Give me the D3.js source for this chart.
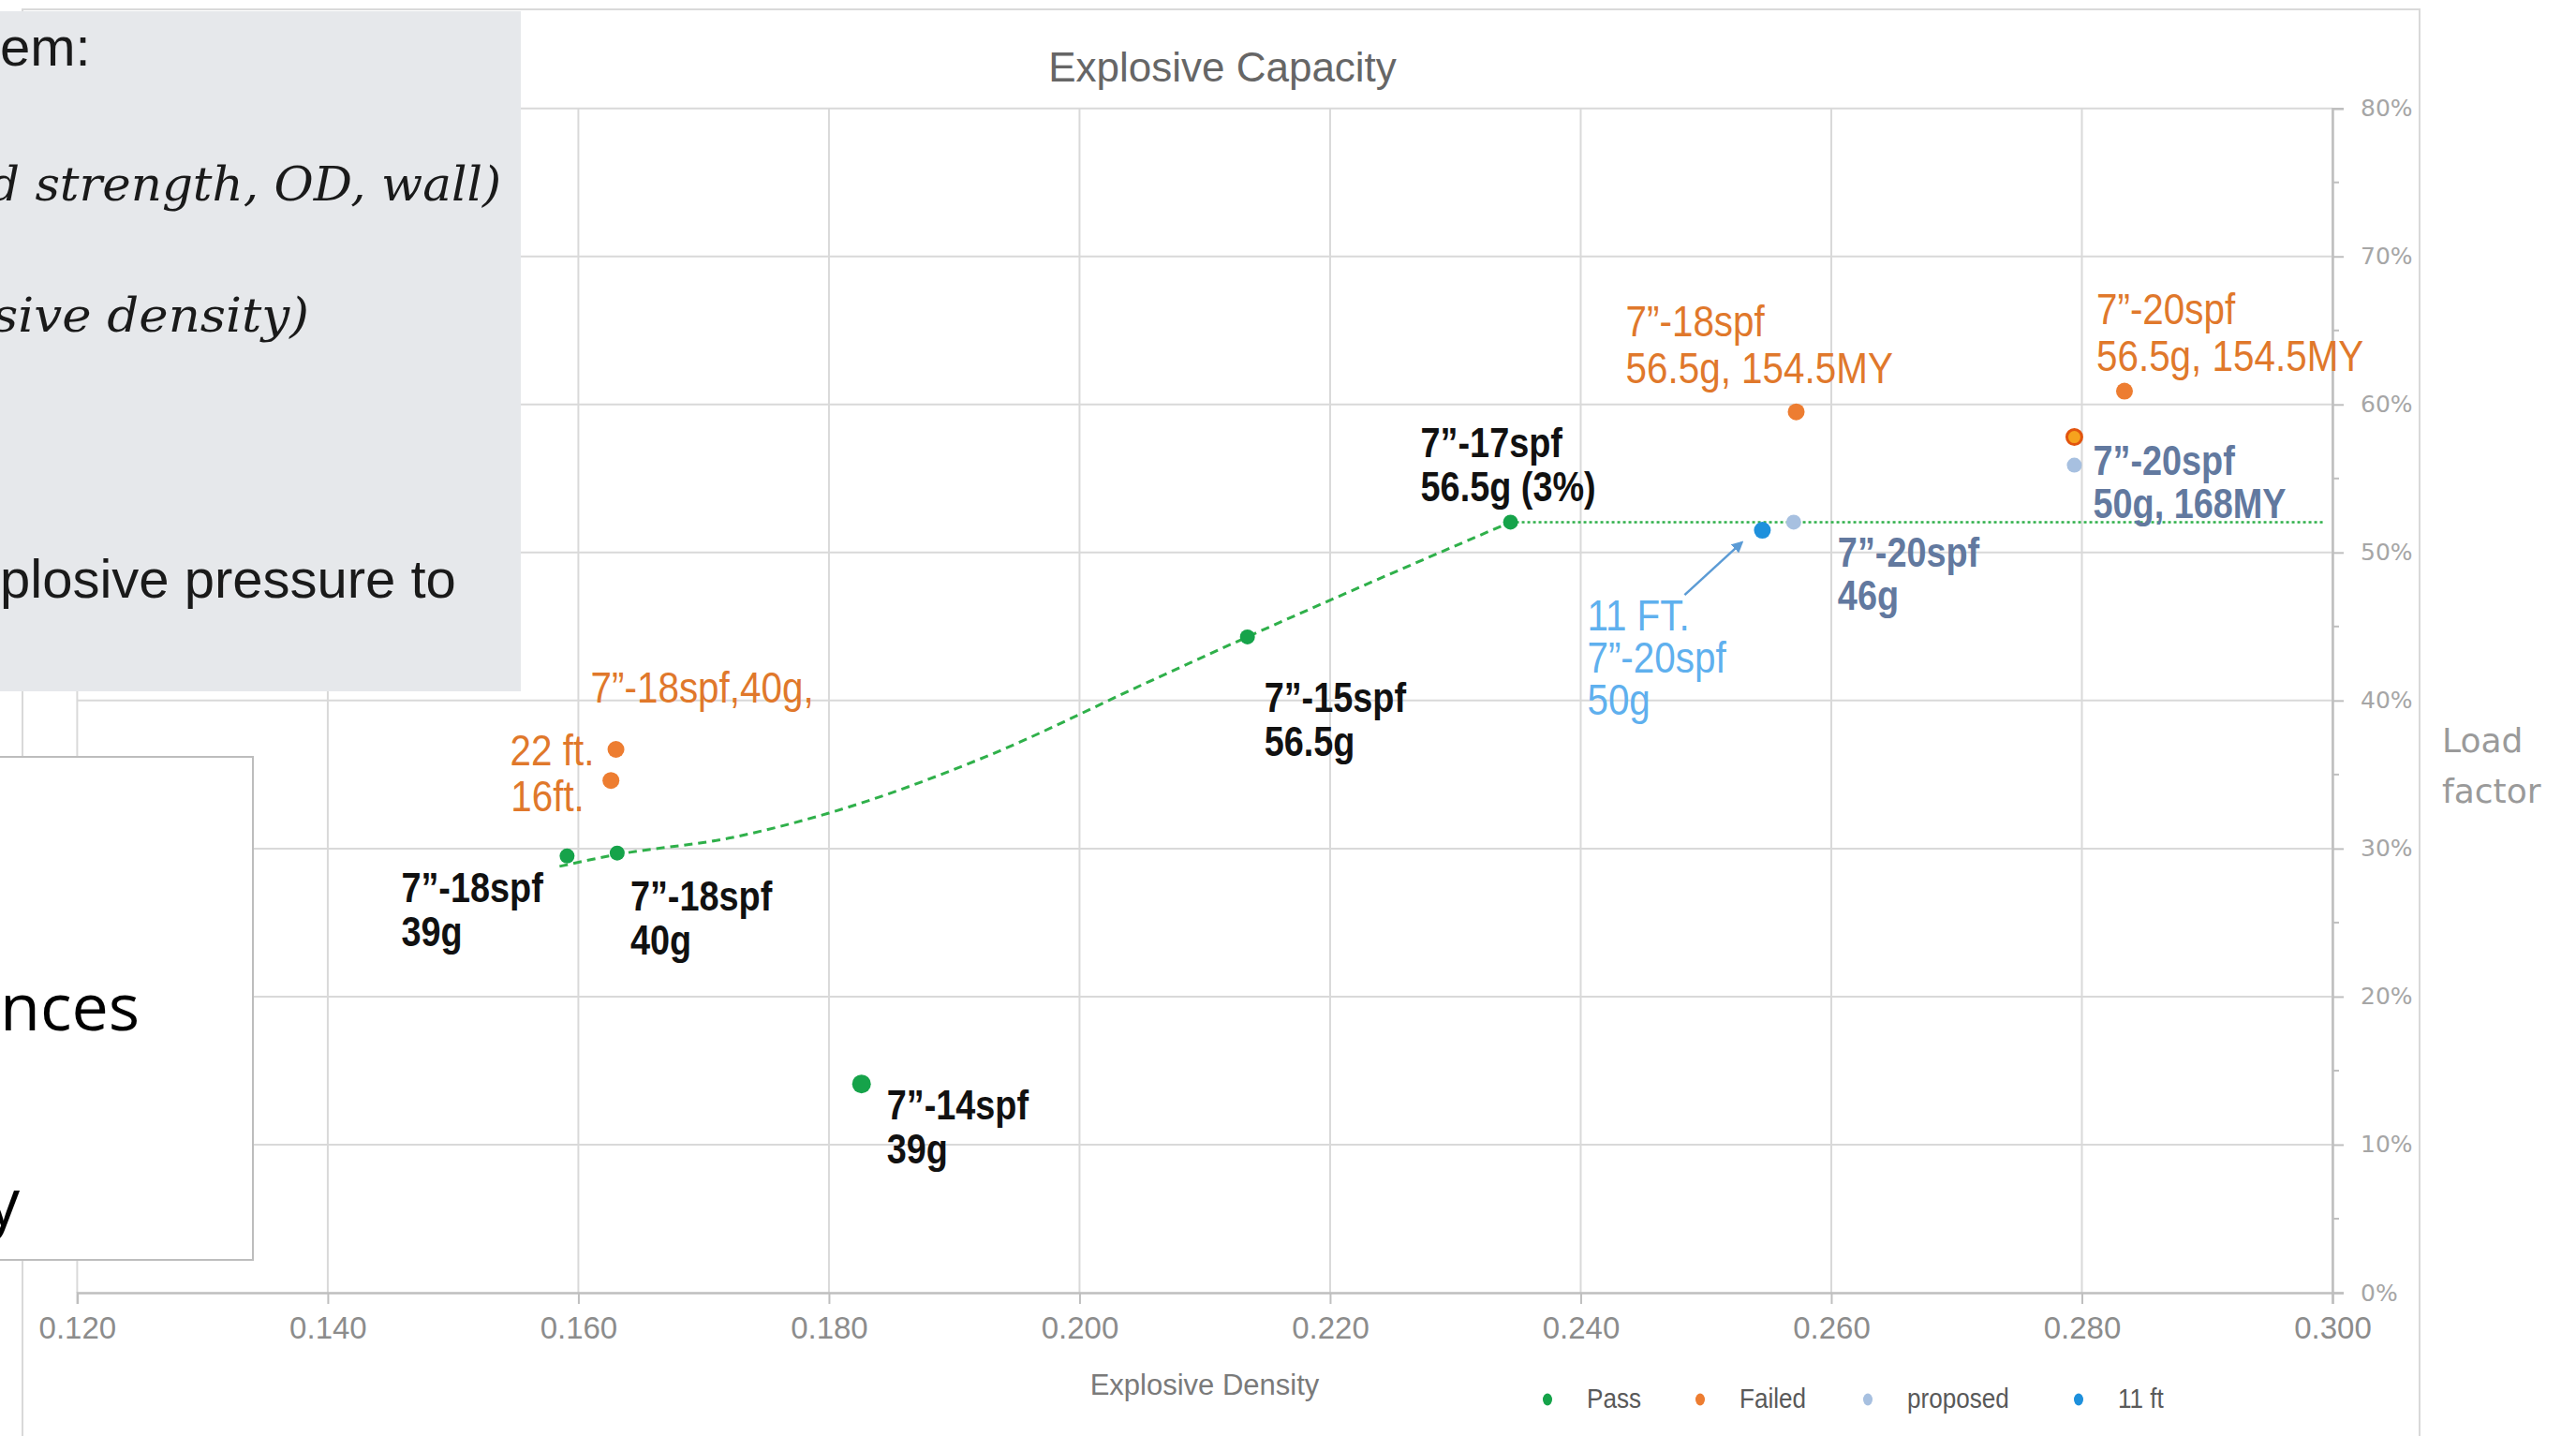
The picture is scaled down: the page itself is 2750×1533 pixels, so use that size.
<!DOCTYPE html>
<html><head><meta charset="utf-8">
<script src="https://cdn.jsdelivr.net/npm/d3@7"></script>
<style>
html,body{margin:0;padding:0;background:#fff;}
svg{display:block;}
</style></head>
<body>
<svg id="c" width="2750" height="1533"></svg>
<script>
// ---------- data ----------
const xTicks = [0.120,0.140,0.160,0.180,0.200,0.220,0.240,0.260,0.280,0.300];
const yTicks = [0,0.1,0.2,0.3,0.4,0.5,0.6,0.7,0.8];
const yMinorTicks = [0.05,0.15,0.25,0.35,0.45,0.55,0.65,0.75];

const passX = [0.1591, 0.1631, 0.1826, 0.2134, 0.2344];
const passY = [0.295, 0.297, 0.141, 0.443, 0.5205];
const passLabels = [["7”-18spf","39g"],["7”-18spf","40g"],["7”-14spf","39g"],["7”-15spf","56.5g"],["7”-17spf","56.5g (3%)"]];

const failedX = [0.1630, 0.1626, 0.2572, 0.2834, 0.2794];
const failedY = [0.367, 0.346, 0.595, 0.609, 0.578];
const failedLabels = [["22 ft."],["16ft."],["7”-18spf","56.5g, 154.5MY"],["7”-20spf","56.5g, 154.5MY"],[]];
const failedGroupLabel = "7”-18spf,40g,";

const proposedX = [0.2570, 0.2794];
const proposedY = [0.5205, 0.559];
const proposedLabels = [["7”-20spf","46g"],["7”-20spf","50g, 168MY"]];

const elevenX = [0.2545];
const elevenY = [0.515];
const elevenLabels = [["11 FT.","7”-20spf","50g"]];

const trendX = [0.1585, 0.1631, 0.1720, 0.1800, 0.1925, 0.2056, 0.2134, 0.2344];
const trendY = [0.288, 0.296, 0.307, 0.324, 0.362, 0.413, 0.443, 0.5205];
const thresholdX = [0.2344, 0.2993];
const thresholdY = 0.5205;

const legendNames = ["Pass","Failed","proposed","11 ft"];

// ---------- layout / style ----------
const LBL = "'Liberation Sans',Arial,sans-serif";
const SQUEEZE = 0.86;
const C = {pass:"#16a34a", failed:"#ed7d31", proposed:"#a7c0e0", eleven:"#1e90dc",
  failedLbl:"#e0782b", propLbl:"#62799f", elevenLbl:"#5fb0ee", grid:"#d9d9d9"};
const passOff = [[-177,49],[14,61],[27,38],[18,80],[-96,-69]];
const failedOff = [[-113,17],[-107,33],[-182,-81],[-30,-72],[0,0]];
const propOff = [[47,48],[20,10]];
const elevenOff = [[-187,107]];

const svg = d3.select("#c");
const x = d3.scaleLinear().domain([0.12,0.30]).range([82.4,2490]);
const y = d3.scaleLinear().domain([0,0.8]).range([1380,115.7]);

// outer chart border
svg.append("rect").attr("x",24).attr("y",10).attr("width",2583-24).attr("height",1600)
  .attr("fill","#fff").attr("stroke","#d9d9d9").attr("stroke-width",2);

// gridlines
const g = svg.append("g");
g.selectAll(".hg").data(yTicks.slice(1)).join("line")
  .attr("x1",x(0.12)).attr("x2",x(0.30)).attr("y1",d=>y(d)).attr("y2",d=>y(d))
  .attr("stroke",C.grid).attr("stroke-width",2);
g.selectAll(".vg").data(xTicks).join("line")
  .attr("x1",d=>x(d)).attr("x2",d=>x(d)).attr("y1",y(0.8)).attr("y2",y(0))
  .attr("stroke",C.grid).attr("stroke-width",2);

// x axis
const xAxis = d3.axisBottom(x).tickValues(xTicks).tickFormat(d3.format(".3f")).tickSize(12).tickPadding(14);
const xg = svg.append("g").attr("transform",`translate(0,${y(0)})`).call(xAxis);
xg.select(".domain").attr("stroke","#bfbfbf").attr("stroke-width",2.5);
xg.selectAll(".tick line").attr("stroke","#bfbfbf").attr("stroke-width",2);
xg.selectAll("text").attr("font-family",LBL).attr("font-size",33).attr("fill","#8c8c8c");

// right y axis
const yAxis = d3.axisRight(y).tickValues(yTicks).tickFormat(d3.format(".0%")).tickSize(12).tickPadding(18);
const yg = svg.append("g").attr("transform",`translate(${x(0.30)},0)`).call(yAxis);
yg.select(".domain").attr("stroke","#bfbfbf").attr("stroke-width",2.5);
yg.selectAll(".tick line").attr("stroke","#bfbfbf").attr("stroke-width",2);
yg.selectAll("text").attr("font-family","'DejaVu Sans',sans-serif").attr("font-size",25).attr("fill","#a6a6a6");
svg.append("g").selectAll("line").data(yMinorTicks).join("line")
  .attr("x1",x(0.30)).attr("x2",x(0.30)+7).attr("y1",d=>y(d)).attr("y2",d=>y(d))
  .attr("stroke","#bfbfbf").attr("stroke-width",2);

// titles
svg.append("text").attr("x",1305).attr("y",87).attr("text-anchor","middle")
  .attr("font-family",LBL).attr("font-size",44).attr("fill","#666")
  .text("Explosive Capacity");
svg.append("text").attr("x",1286).attr("y",1489).attr("text-anchor","middle")
  .attr("font-family",LBL).attr("font-size",31).attr("fill","#7a7a7a")
  .text("Explosive Density");
const lf = svg.append("text").attr("font-family","'DejaVu Sans',sans-serif").attr("font-size",36).attr("fill","#9a9a9a");
lf.append("tspan").attr("x",2607).attr("y",803).text("Load");
lf.append("tspan").attr("x",2607).attr("y",857).text("factor");

// trendline + threshold
const line = d3.line().x(d=>x(d[0])).y(d=>y(d[1])).curve(d3.curveMonotoneX);
svg.append("path").attr("d",line(trendX.map((v,i)=>[v,trendY[i]])))
  .attr("fill","none").attr("stroke","#2fb04a").attr("stroke-width",3).attr("stroke-dasharray","9,6");
svg.append("line").attr("x1",x(thresholdX[0])).attr("x2",x(thresholdX[1]))
  .attr("y1",y(thresholdY)).attr("y2",y(thresholdY))
  .attr("stroke","#2fb04a").attr("stroke-width",2.5).attr("stroke-dasharray","3,3");

// markers
function dots(xs, ys, fill, r, stroke){
  svg.append("g").selectAll("circle").data(xs.map((v,i)=>[v,ys[i]])).join("circle")
    .attr("cx",d=>x(d[0])).attr("cy",d=>y(d[1])).attr("r",r)
    .attr("fill",fill).attr("stroke",stroke||"none").attr("stroke-width",stroke?3:0);
}
dots(passX.slice(0,2).concat(passX.slice(3)), passY.slice(0,2).concat(passY.slice(3)), C.pass, 8);
dots([passX[2]],[passY[2]], C.pass, 10);
dots(failedX.slice(0,4), failedY.slice(0,4), C.failed, 9);
dots([failedX[4]],[failedY[4]], "#f6a21e", 8, "#e2540e");
dots(proposedX, proposedY, C.proposed, 8);
dots(elevenX, elevenY, C.eleven, 9);

// condensed labels (Arial-Narrow look)
function narrowText(bx, by, lines, color, size, weight, lh){
  const gg = svg.append("g").attr("transform",`translate(${bx},${by}) scale(${SQUEEZE},1)`);
  const t = gg.append("text").attr("font-family",LBL).attr("font-size",size)
    .attr("font-weight",weight).attr("fill",color);
  lines.forEach((s,j)=>t.append("tspan").attr("x",0).attr("y",j*lh).text(s));
}
function labels(xs, ys, texts, offs, color, size, weight, lh){
  texts.forEach((lines,i)=>{
    if(!lines.length) return;
    narrowText(x(xs[i])+offs[i][0], y(ys[i])+offs[i][1], lines, color, size, weight, lh);
  });
}
labels(passX, passY, passLabels, passOff, "#111", 44, "bold", 47);
labels(failedX, failedY, failedLabels, failedOff, C.failedLbl, 47, "normal", 50);
labels(proposedX, proposedY, proposedLabels, propOff, C.propLbl, 44, "bold", 46);
labels(elevenX, elevenY, elevenLabels, elevenOff, C.elevenLbl, 47, "normal", 45);
narrowText(x(failedX[0])-27, y(failedY[0])-50, [failedGroupLabel], C.failedLbl, 47, "normal", 50);

// arrow for 11 ft
const defs = svg.append("defs");
defs.append("marker").attr("id","ah").attr("viewBox","0 0 10 10").attr("refX",8).attr("refY",5)
  .attr("markerWidth",5).attr("markerHeight",5).attr("orient","auto")
  .append("path").attr("d","M0,0L10,5L0,10z").attr("fill","#5b9bd5");
svg.append("line").attr("x1",x(elevenX[0])-83).attr("y1",y(elevenY[0])+69)
  .attr("x2",x(elevenX[0])-22).attr("y2",y(elevenY[0])+13)
  .attr("stroke","#5b9bd5").attr("stroke-width",2.5).attr("marker-end","url(#ah)");

// legend
const legColors = [C.pass, C.failed, C.proposed, C.eleven];
const legDotX = [1652, 1815, 1994, 2219];
const lg = svg.append("g");
legendNames.forEach((n,i)=>{
  lg.append("ellipse").attr("cx",legDotX[i]).attr("cy",1494).attr("rx",5).attr("ry",6.5).attr("fill",legColors[i]);
  lg.append("g").attr("transform",`translate(${legDotX[i]+42},1503) scale(0.9,1)`)
    .append("text").attr("font-family",LBL).attr("font-size",29).attr("fill","#595959").text(n);
});

// overlaid slide boxes
svg.append("rect").attr("x",-5).attr("y",12).attr("width",561).attr("height",726).attr("fill","#e6e8eb");
const sans = "'Liberation Sans',Arial,sans-serif";
const serif = "'DejaVu Serif',serif";
svg.append("text").attr("x",0).attr("y",70).attr("font-family",sans).attr("font-size",58).attr("fill","#1a1a1a").text("em:");
svg.append("text").attr("x",-12).attr("y",214).attr("font-family",serif).attr("font-style","italic")
  .attr("font-size",50).attr("fill","#1a1a1a").attr("textLength",547).attr("lengthAdjust","spacingAndGlyphs")
  .text("d strength, OD, wall)");
svg.append("text").attr("x",-8).attr("y",354).attr("font-family",serif).attr("font-style","italic")
  .attr("font-size",50).attr("fill","#1a1a1a").attr("textLength",338).attr("lengthAdjust","spacingAndGlyphs")
  .text("sive density)");
svg.append("text").attr("x",0).attr("y",638).attr("font-family",sans).attr("font-size",58).attr("fill","#1a1a1a").text("plosive pressure to");

svg.append("rect").attr("x",-5).attr("y",808).attr("width",275).attr("height",537)
  .attr("fill","#fff").attr("stroke","#bdbdbd").attr("stroke-width",2);
svg.append("text").attr("x",0).attr("y",1100).attr("font-family","'Open Sans',sans-serif").attr("font-size",70).attr("fill","#000").text("nces");
svg.append("text").attr("x",-14).attr("y",1308).attr("font-family","'Open Sans',sans-serif").attr("font-size",70).attr("fill","#000").text("y");
</script>
</body></html>
